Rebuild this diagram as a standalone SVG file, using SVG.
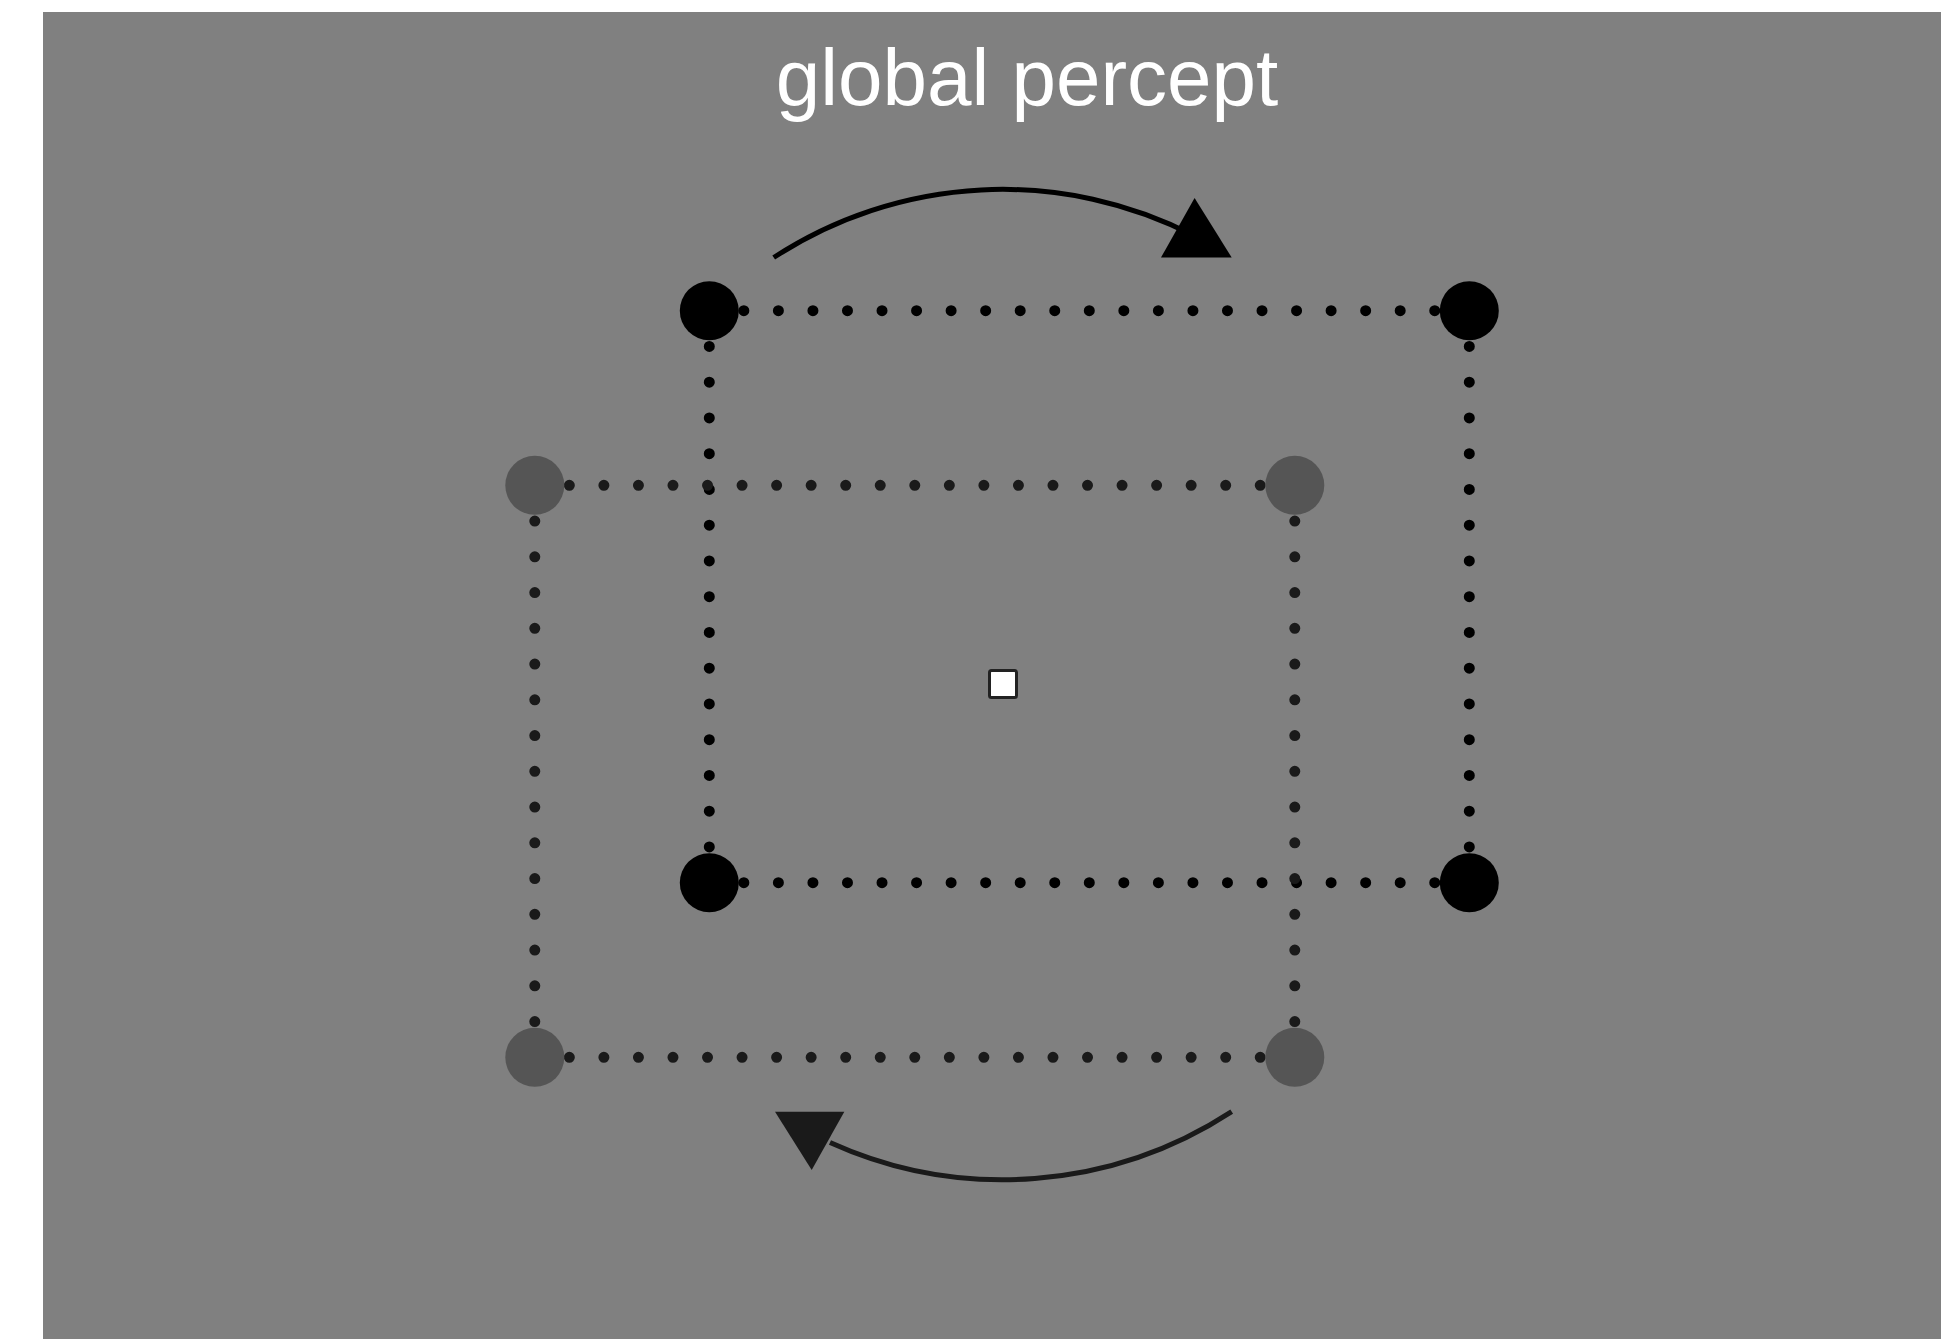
<svg xmlns="http://www.w3.org/2000/svg" width="1941" height="1339" viewBox="0 0 1941 1339">
<style>
.bg{fill:#808080}
.title{font-family:"Liberation Sans",Arial,sans-serif;font-size:80px;fill:#fff;text-anchor:middle}
.hb{stroke:#000;stroke-width:11;stroke-linecap:round;stroke-dasharray:0 34.545;fill:none}
.vb{stroke:#000;stroke-width:11;stroke-linecap:round;stroke-dasharray:0 35.75;fill:none}
.hg{stroke:#1a1a1a;stroke-width:11;stroke-linecap:round;stroke-dasharray:0 34.545;fill:none}
.vg{stroke:#1a1a1a;stroke-width:11;stroke-linecap:round;stroke-dasharray:0 35.75;fill:none}
.cb{fill:#000}
.cg{fill:#555}
.arc{fill:none;stroke-width:5}
</style>
<rect class="bg" x="43" y="12" width="1898" height="1327"/>
<text class="title" x="1027" y="105">global percept</text>
<g id="connectors">
<path class="arc" stroke="#000" d="M773.7 257.5 A419 419 0 0 1 1194.6 235.9"/>
<polygon fill="#000" points="1161,257.5 1231.7,257.5 1194.6,198"/>
<path class="arc" stroke="#1a1a1a" d="M1231.7 1111.7 A419 419 0 0 1 830 1142.5"/>
<polygon fill="#1a1a1a" points="775,1111.7 844.3,1111.7 811.7,1170"/>
</g>
<g id="black-square">
<line class="hb" x1="709.3" y1="310.7" x2="1469.3" y2="310.7"/>
<line class="hb" x1="709.3" y1="882.7" x2="1469.3" y2="882.7"/>
<line class="vb" x1="709.3" y1="310.7" x2="709.3" y2="882.7"/>
<line class="vb" x1="1469.3" y1="310.7" x2="1469.3" y2="882.7"/>
</g>
<g id="gray-square">
<line class="hg" x1="534.8" y1="485.3" x2="1294.8" y2="485.3"/>
<line class="hg" x1="534.8" y1="1057.3" x2="1294.8" y2="1057.3"/>
<line class="vg" x1="534.8" y1="485.3" x2="534.8" y2="1057.3"/>
<line class="vg" x1="1294.8" y1="485.3" x2="1294.8" y2="1057.3"/>
</g>
<g id="black-dot-tl"><circle class="cb" cx="709.3" cy="310.7" r="29.5"/></g>
<g id="black-dot-tr"><circle class="cb" cx="1469.3" cy="310.7" r="29.5"/></g>
<g id="black-dot-bl"><circle class="cb" cx="709.3" cy="882.7" r="29.5"/></g>
<g id="black-dot-br"><circle class="cb" cx="1469.3" cy="882.7" r="29.5"/></g>
<g id="gray-dot-tl"><circle class="cg" cx="534.8" cy="485.3" r="29.5"/></g>
<g id="gray-dot-tr"><circle class="cg" cx="1294.8" cy="485.3" r="29.5"/></g>
<g id="gray-dot-bl"><circle class="cg" cx="534.8" cy="1057.3" r="29.5"/></g>
<g id="gray-dot-br"><circle class="cg" cx="1294.8" cy="1057.3" r="29.5"/></g>
<g id="fixation"><rect x="989.5" y="670.5" width="27" height="27" rx="2" fill="#fff" stroke="#222" stroke-width="3"/></g>
</svg>
